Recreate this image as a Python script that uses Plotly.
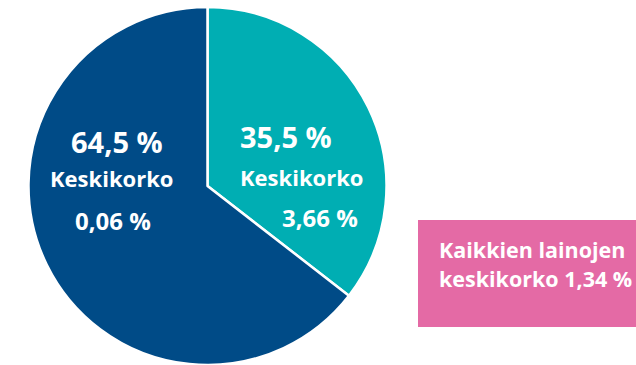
import plotly.graph_objects as go

# Loan portfolio split and average interest rate per group
groups = ["Kiinteäkorkoiset", "Vaihtuvakorkoiset"]
shares = [35.5, 64.5]            # % of loans
avg_rates = [3.66, 0.06]         # average rate, %
total_avg_rate = 1.34            # average rate of all loans, %
colors = ["#00AEB3", "#004B87"]

W, H = 636, 365


def fi(v, d):
    return f"{v:.{d}f}".replace(".", ",") + " %"


fig = go.Figure(
    go.Pie(
        labels=groups,
        values=shares,
        sort=False,
        direction="clockwise",
        rotation=0,
        marker=dict(colors=colors, line=dict(color="white", width=2.5)),
        textinfo="none",
        hoverinfo="skip",
        showlegend=False,
        domain=dict(x=[28.5 / W, 386.5 / W], y=[0, 358 / H]),
    )
)

FONT = "Open Sans"


def px_ann(x, y, text, size, anchor="center"):
    fig.add_annotation(
        x=x / W, y=1 - y / H, xref="paper", yref="paper",
        text=f"<b>{text}</b>", showarrow=False,
        xanchor=anchor, yanchor="middle",
        font=dict(family=FONT, size=size, color="white"),
    )


# Slice labels (teal slice first, dark blue second)
label_pos = [
    [(286, 136), (301, 177), (320, 217)],
    [(117, 142), (112, 178), (113, 220)],
]
for i in range(len(groups)):
    (x1, y1), (x2, y2), (x3, y3) = label_pos[i]
    px_ann(x1, y1, fi(shares[i], 1), 29)
    px_ann(x2, y2, "Keskikorko", 22)
    px_ann(x3, y3, fi(avg_rates[i], 2), 24)

# Overall average box
fig.add_shape(
    type="rect", xref="paper", yref="paper",
    x0=418 / W, x1=1.02, y0=1 - 327 / H, y1=1 - 220 / H,
    fillcolor="#E46AA5", line=dict(width=0), layer="below",
)
px_ann(437, 249, "Kaikkien lainojen", 21.5, "left")
px_ann(437, 278, "keskikorko " + fi(total_avg_rate, 2), 21.5, "left")

fig.update_layout(
    width=W, height=H,
    margin=dict(l=0, r=0, t=0, b=0),
    paper_bgcolor="white", plot_bgcolor="white",
)

fig.write_html("out.html")
